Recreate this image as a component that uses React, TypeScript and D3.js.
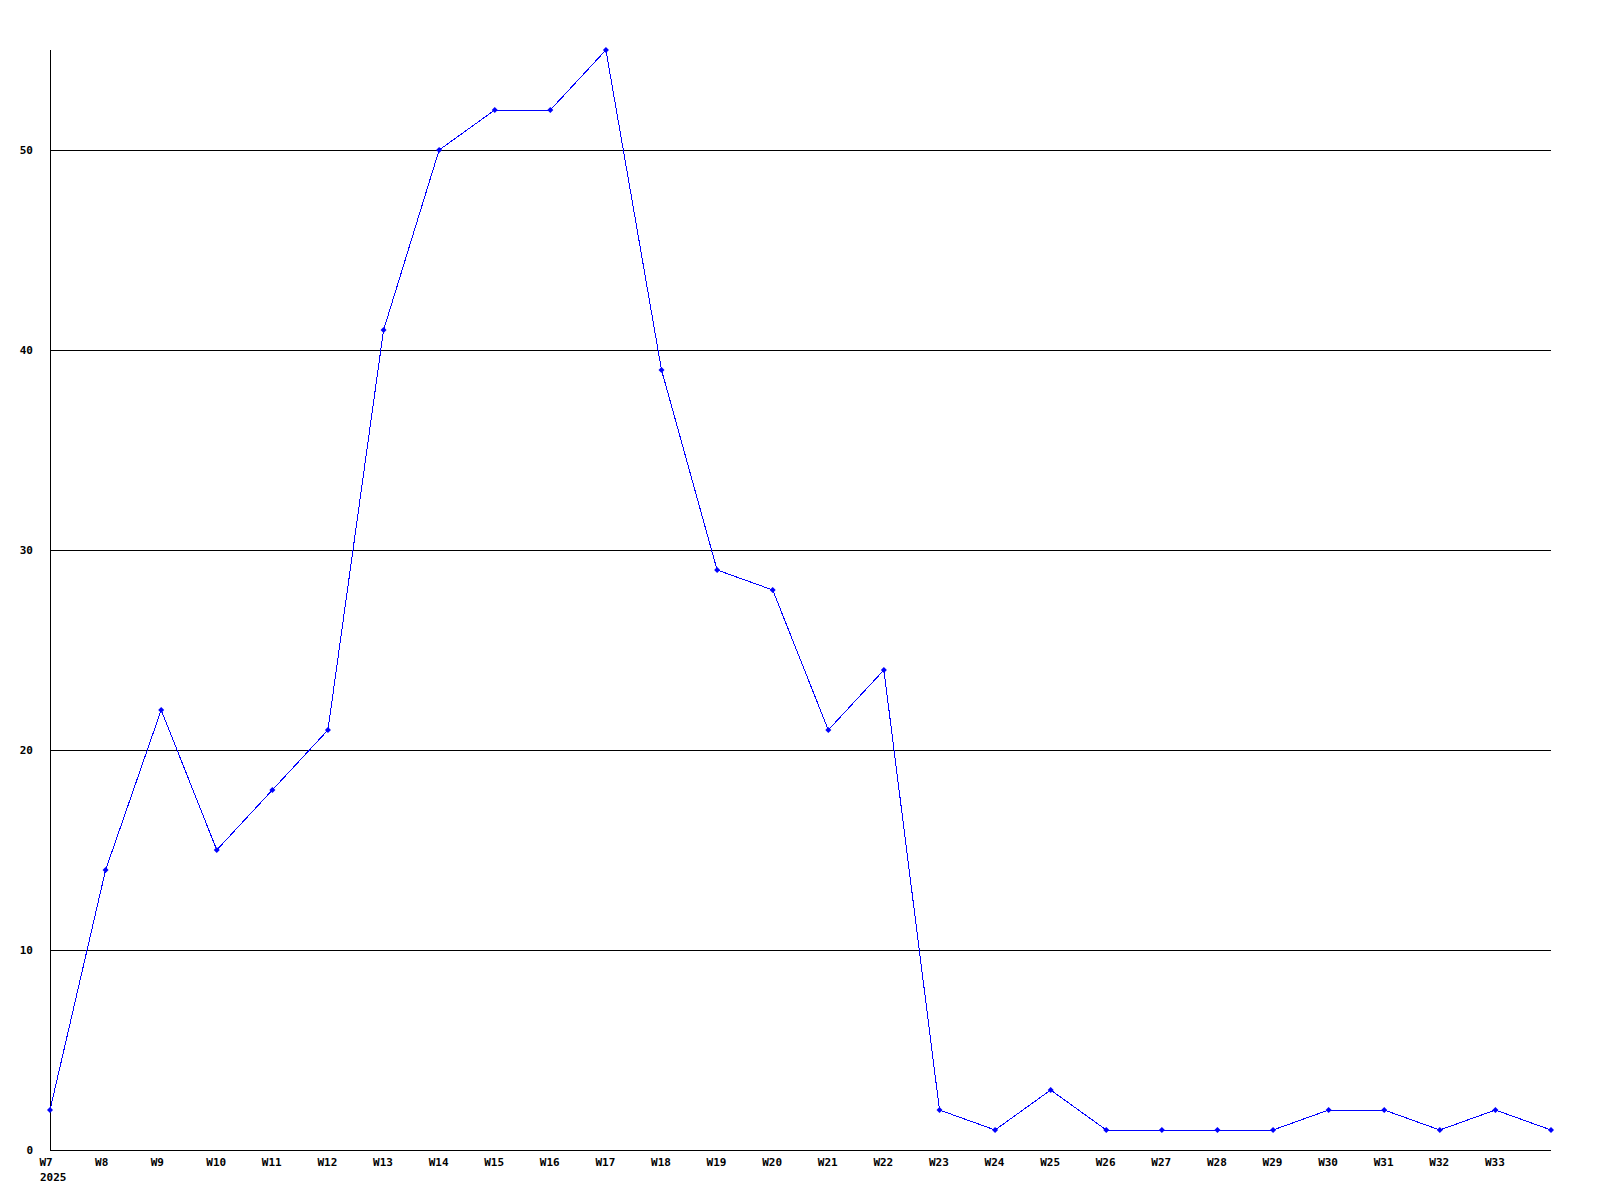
import React from "react";
import * as d3 from "d3";

const weeks = ["W7","W8","W9","W10","W11","W12","W13","W14","W15","W16","W17","W18","W19","W20","W21","W22","W23","W24","W25","W26","W27","W28","W29","W30","W31","W32","W33","W34"];
const weekLabels = ["W7","W8","W9","W10","W11","W12","W13","W14","W15","W16","W17","W18","W19","W20","W21","W22","W23","W24","W25","W26","W27","W28","W29","W30","W31","W32","W33"];
const values = [2,14,22,15,18,21,41,50,52,52,55,39,29,28,21,24,2,1,3,1,1,1,1,2,2,1,2,1];
const yTicks = [0,10,20,30,40,50];
const yearLabel = "2025";

export default function App() {
  const W = 1600, H = 1200;
  const left = 50, right = 1551, top = 50, bottom = 1150;
  const x = d3.scalePoint<string>().domain(weeks).range([left, right]);
  const y = d3.scaleLinear().domain([0, 55]).range([bottom, top]);
  const line = d3.line<number>().x((_, i) => x(weeks[i])!).y(d => y(d));
  const font = "'DejaVu Sans Mono', monospace";
  return (
    <div style={{ position: "absolute", left: 0, top: 0 }}>
      <svg width={W} height={H} style={{ display: "block", background: "#fff" }}>
        <g shapeRendering="crispEdges">
          {yTicks.filter(t => t > 0).map(t => (
            <line key={t} x1={left} x2={right} y1={Math.round(y(t)) + 0.5} y2={Math.round(y(t)) + 0.5} stroke="#000" strokeWidth={1} />
          ))}
          <line x1={left + 0.5} x2={left + 0.5} y1={top} y2={bottom + 0.5} stroke="#000" strokeWidth={1} />
          <line x1={left} x2={right} y1={bottom + 0.5} y2={bottom + 0.5} stroke="#000" strokeWidth={1} />
        </g>
        {yTicks.map(t => (
          <text key={t} x={33} y={y(t)} dy="0.35em" textAnchor="end" fontFamily={font} fontWeight="bold" fontSize={11} fill="#000">{t}</text>
        ))}
        {weekLabels.map(w => (
          <text key={w} x={x(w)! - 10.5} y={1162} dy="0.35em" textAnchor="start" fontFamily={font} fontWeight="bold" fontSize={11} fill="#000">{w}</text>
        ))}
        <text x={40} y={1177} dy="0.35em" fontFamily={font} fontWeight="bold" fontSize={11} fill="#000">{yearLabel}</text>
        <path d={line(values)!} fill="none" stroke="#0000ff" strokeWidth={1} shapeRendering="crispEdges" />
        {values.map((v, i) => {
          const cx = x(weeks[i])!, cy = y(v);
          const r = 3;
          return <path key={i} d={`M${cx},${cy - r}L${cx + r},${cy}L${cx},${cy + r}L${cx - r},${cy}Z`} fill="#0000ff" />;
        })}
      </svg>
    </div>
  );
}
